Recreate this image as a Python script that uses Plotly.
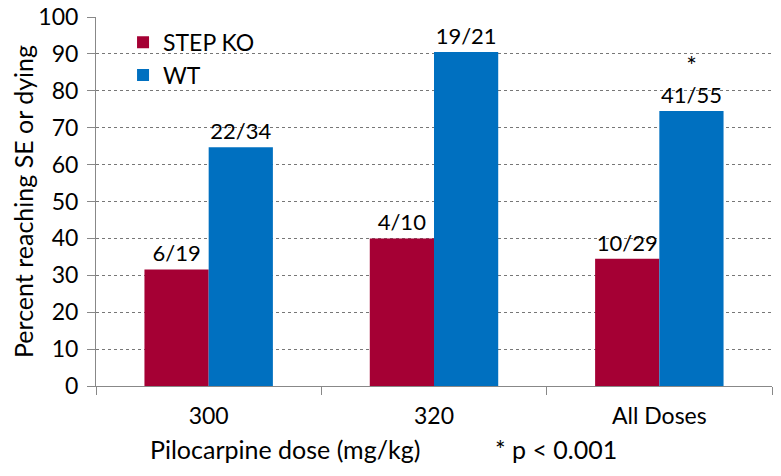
import plotly.graph_objects as go

doses = ["300", "320", "All Doses"]
ko_pct = [31.6, 40.0, 34.5]
wt_pct = [64.7, 90.5, 74.5]
ko_labels = ["6/19", "4/10", "10/29"]
wt_labels = ["22/34", "19/21", "<span style='font-size:25px'>*</span><br>41/55"]
y_ticks = [0, 10, 20, 30, 40, 50, 60, 70, 80, 90, 100]

FONT = "Lato, Open Sans, sans-serif"

fig = go.Figure()
fig.add_trace(go.Bar(x=doses, y=ko_pct, name="STEP KO", marker_color="#A50034",
                     marker_line_width=0,
                     text=ko_labels, textposition="outside", cliponaxis=False,
                     textfont=dict(size=22, color="black")))
fig.add_trace(go.Bar(x=doses, y=wt_pct, name="WT", marker_color="#0070C0",
                     marker_line_width=0,
                     text=wt_labels, textposition="outside", cliponaxis=False,
                     textfont=dict(size=22, color="black")))

# x title and p-value note sit on one line below the axis
fig.add_annotation(text="Pilocarpine dose (mg/kg)", xref="paper", yref="paper",
                   x=0.077, y=-0.17, xanchor="left", yanchor="middle", showarrow=False,
                   font=dict(size=25, color="black", family=FONT))
fig.add_annotation(text="* p < 0.001", xref="paper", yref="paper",
                   x=0.587, y=-0.17, xanchor="left", yanchor="middle", showarrow=False,
                   font=dict(size=25, color="black", family=FONT))

fig.update_layout(
    width=781, height=476,
    margin=dict(l=88, r=17, t=9, b=98, autoexpand=False),
    plot_bgcolor="white", paper_bgcolor="white",
    font=dict(family=FONT, color="black"),
    barmode="group", bargap=0.43, bargroupgap=0,
    legend=dict(x=0.04, y=0.99, xanchor="left", yanchor="top",
                font=dict(size=23), bgcolor="rgba(0,0,0,0)",
                itemwidth=30, tracegroupgap=0),
)
fig.update_xaxes(showline=True, linecolor="#888888", linewidth=1,
                 ticks="outside", tickson="boundaries", ticklen=8, tickcolor="#888888",
                 tickfont=dict(size=23), ticklabelstandoff=9, showgrid=False,
                 automargin=False)
fig.update_yaxes(range=[0, 100], tickvals=y_ticks, showline=True, linecolor="#888888",
                 linewidth=1, ticks="outside", ticklen=8, tickcolor="#888888",
                 tickfont=dict(size=23), ticklabelstandoff=4, ticklabeloverflow="allow",
                 showgrid=True, gridcolor="#777777", griddash="dot", gridwidth=1,
                 zeroline=False, automargin=False,
                 title=dict(text="Percent reaching SE or dying", font=dict(size=25), standoff=2))

fig.write_html("out.html")
